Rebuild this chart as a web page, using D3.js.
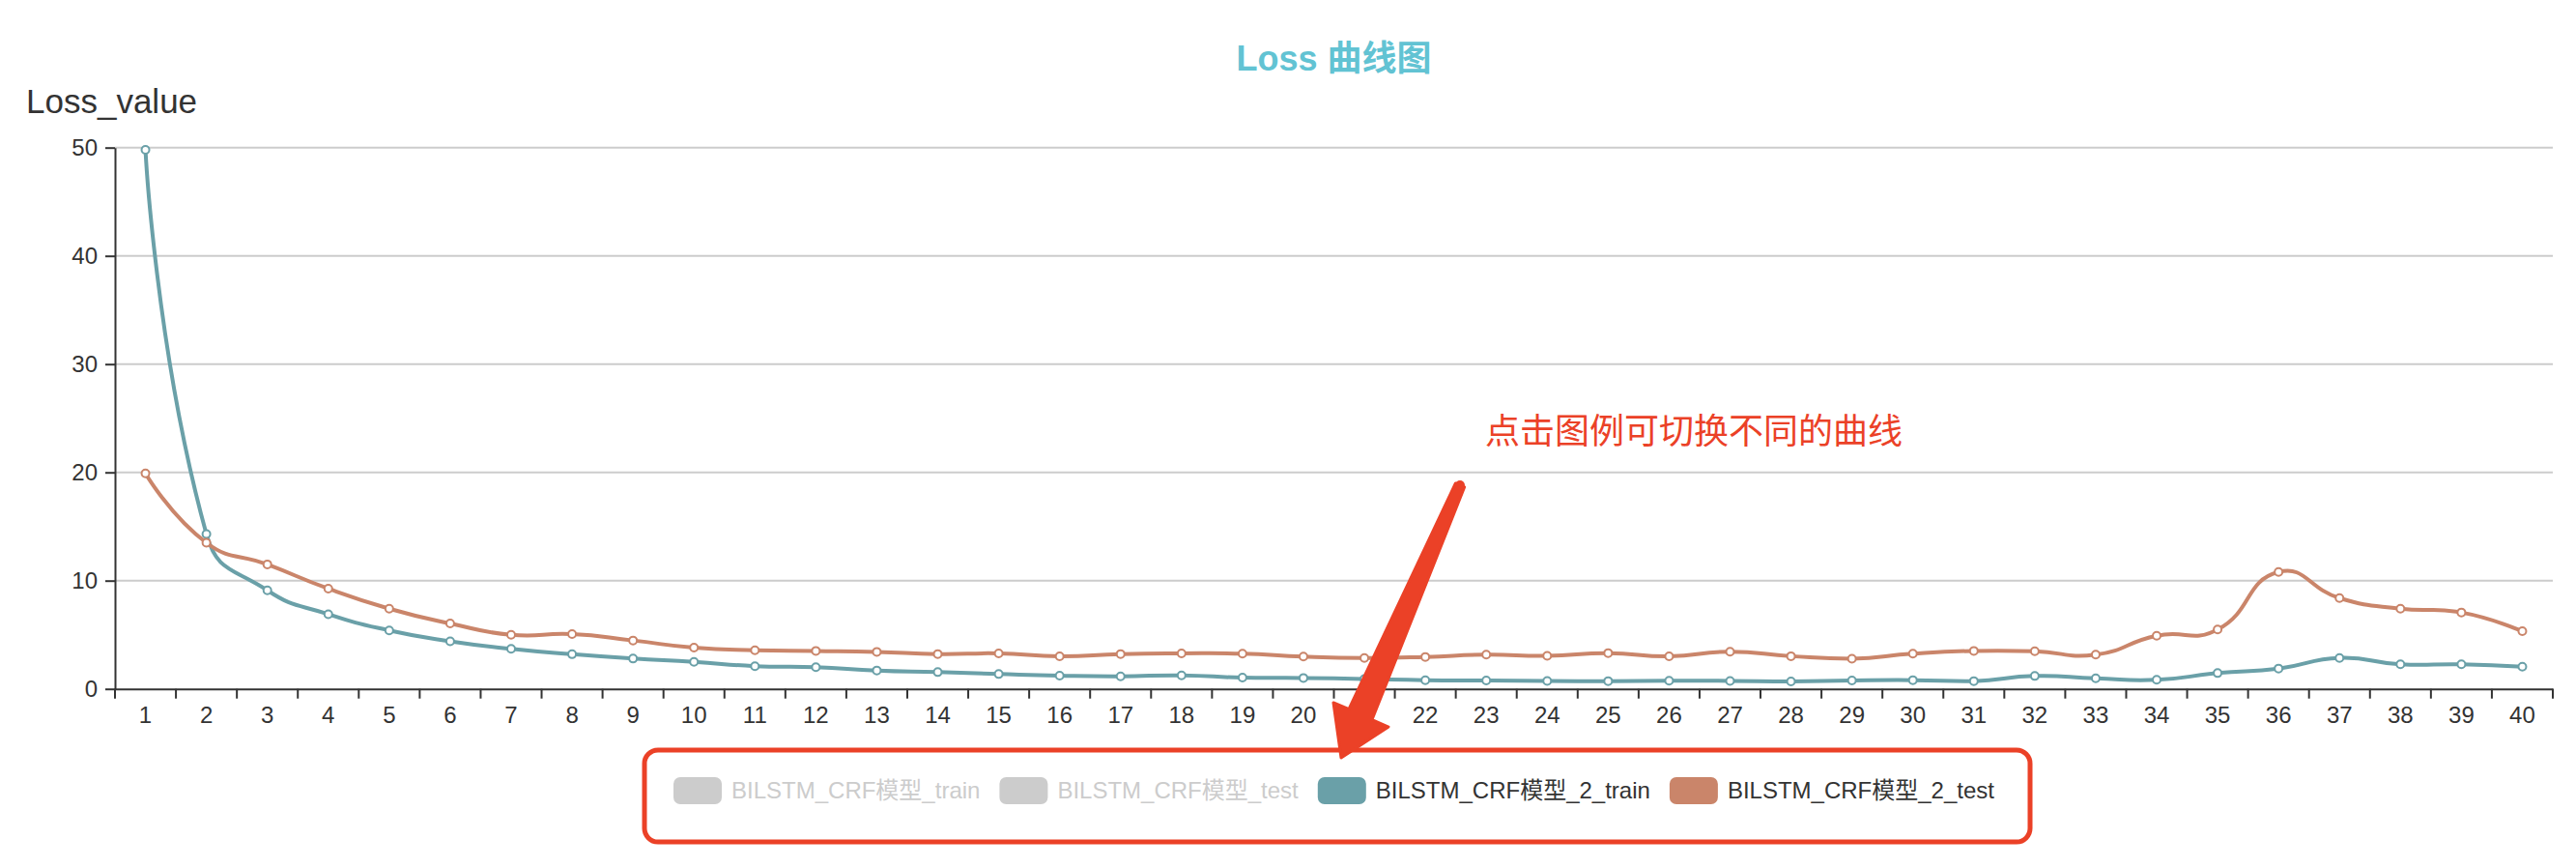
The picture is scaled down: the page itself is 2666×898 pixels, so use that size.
<!DOCTYPE html>
<meta charset="utf-8">
<style>
body { margin: 0; background: #fff; }
svg text { font-family: "Liberation Sans", "Noto Sans CJK SC", sans-serif; }
.axis text { font-size: 24px; fill: #333; }
.axis path, .axis line { stroke: #333; stroke-width: 2; }
.grid line { stroke: #ccc; stroke-width: 2; }
</style>
<svg width="2666" height="898"></svg>
<script src="https://d3js.org/d3.v7.min.js"></script>
<script>

var epochs = d3.range(1, 41).map(String);
var trainLoss = [49.8, 14.3, 9.1, 6.9, 5.4, 4.4, 3.7, 3.2, 2.8, 2.5,
                 2.1, 2.0, 1.7, 1.55, 1.37, 1.22, 1.16, 1.25, 1.04, 1.01,
                 0.91, 0.80, 0.77, 0.73, 0.72, 0.76, 0.74, 0.69, 0.78, 0.81,
                 0.72, 1.19, 0.98, 0.84, 1.46, 1.88, 2.86, 2.27, 2.27, 2.05];
var testLoss = [19.9, 13.5, 11.5, 9.26, 7.41, 6.04, 5.0, 5.06, 4.47, 3.81,
                3.57, 3.51, 3.42, 3.22, 3.28, 3.01, 3.22, 3.28, 3.25, 2.98,
                2.86, 2.95, 3.16, 3.05, 3.31, 3.01, 3.44, 3.02, 2.79, 3.25,
                3.51, 3.48, 3.16, 4.91, 5.48, 10.8, 8.39, 7.41, 7.06, 5.33];
var yTicks = [0, 10, 20, 30, 40, 50];
var legendNames = ["BILSTM_CRF模型_train", "BILSTM_CRF模型_test", "BILSTM_CRF模型_2_train", "BILSTM_CRF模型_2_test"];
var legendOn = [false, false, true, true];

var svg = d3.select("svg");
var gLeft = 119, gRight = 2642, gTop = 152.7, gBottom = 712.7;
var palette = ["#c23531", "#2f4554", "#6aa0a8", "#ca856a"];

var x = d3.scaleBand().domain(epochs).range([gLeft, gRight]).padding(0);
var y = d3.scaleLinear().domain([0, 50]).range([gBottom, gTop]);

// grid
svg.append("g").attr("class", "grid")
  .selectAll("line").data(yTicks.filter(function(d) { return d > 0; }))
  .enter().append("line")
    .attr("x1", gLeft).attr("x2", gRight)
    .attr("y1", function(d) { return y(d); }).attr("y2", function(d) { return y(d); });

// axes
svg.append("g").attr("class", "axis")
  .attr("transform", "translate(" + gLeft + ",0)")
  .call(d3.axisLeft(y).tickValues(yTicks).tickSize(10).tickSizeOuter(0).tickPadding(8));

var xg = svg.append("g").attr("class", "axis")
  .attr("transform", "translate(0," + gBottom + ")")
  .call(d3.axisBottom(x).tickSize(0).tickSizeOuter(0).tickPadding(18));
xg.selectAll(".tick line").remove();
xg.selectAll(".boundary").data(d3.range(epochs.length + 1))
  .enter().append("line")
    .attr("class", "boundary")
    .attr("x1", function(i) { return gLeft + i * x.step(); })
    .attr("x2", function(i) { return gLeft + i * x.step(); })
    .attr("y1", 0).attr("y2", 10);

// echarts-like smooth line
function smoothPath(pts, smooth) {
  var minX = d3.min(pts, function(p) { return p[0]; }), maxX = d3.max(pts, function(p) { return p[0]; });
  var minY = d3.min(pts, function(p) { return p[1]; }), maxY = d3.max(pts, function(p) { return p[1]; });
  function clamp(c) { return [Math.max(minX, Math.min(maxX, c[0])), Math.max(minY, Math.min(maxY, c[1]))]; }
  var path = d3.path();
  path.moveTo(pts[0][0], pts[0][1]);
  var cp0 = pts[0].slice();
  for (var i = 1; i < pts.length; i++) {
    var p = pts[i], prev = pts[i - 1], next = pts[i + 1];
    var v = [0, 0], ratio = 0.5, cp1;
    if (!next) {
      cp1 = p.slice();
    } else {
      v = [next[0] - prev[0], next[1] - prev[1]];
      var lp = Math.hypot(p[0] - prev[0], p[1] - prev[1]);
      var ln = Math.hypot(p[0] - next[0], p[1] - next[1]);
      ratio = ln / (ln + lp);
      cp1 = [p[0] - v[0] * smooth * (1 - ratio), p[1] - v[1] * smooth * (1 - ratio)];
    }
    cp0 = clamp(cp0); cp1 = clamp(cp1);
    path.bezierCurveTo(cp0[0], cp0[1], cp1[0], cp1[1], p[0], p[1]);
    cp0 = [p[0] + v[0] * smooth * ratio, p[1] + v[1] * smooth * ratio];
  }
  return path.toString();
}

var series = [
  { values: trainLoss, color: palette[2] },
  { values: testLoss, color: palette[3] }
];

series.forEach(function(s) {
  var pts = s.values.map(function(v, i) { return [x(epochs[i]) + x.bandwidth() / 2, y(v)]; });
  svg.append("path")
    .attr("d", smoothPath(pts, 0.5))
    .attr("fill", "none")
    .attr("stroke", s.color)
    .attr("stroke-width", 4)
    .attr("stroke-linejoin", "round");
  svg.append("g").selectAll("circle").data(pts)
    .enter().append("circle")
      .attr("cx", function(d) { return d[0]; })
      .attr("cy", function(d) { return d[1]; })
      .attr("r", 4)
      .attr("fill", "#fff")
      .attr("stroke", s.color)
      .attr("stroke-width", 2);
});

// title + axis name
svg.append("text").attr("x", (gLeft + gRight) / 2).attr("y", 72.5)
  .attr("text-anchor", "middle")
  .style("font-size", "36px").style("font-weight", "bold").style("fill", "#62c3d3")
  .text("Loss 曲线图");
svg.append("text").attr("x", 27).attr("y", 117)
  .style("font-size", "35px").style("fill", "#333")
  .text("Loss_value");

// legend
var lg = svg.append("g");
var cx = 0;
legendNames.forEach(function(name, i) {
  var item = lg.append("g").attr("transform", "translate(" + cx + ",0)");
  item.append("rect").attr("x", 0).attr("y", 804).attr("width", 50).attr("height", 28).attr("rx", 7)
    .attr("fill", legendOn[i] ? palette[i] : "#ccc");
  var t = item.append("text").attr("x", 60).attr("y", 826)
    .style("font-size", "24px").style("fill", legendOn[i] ? "#333" : "#ccc")
    .text(name);
  cx += 60 + t.node().getComputedTextLength() + 20;
});
var lgWidth = cx - 20;
lg.attr("transform", "translate(" + ((gLeft + gRight) / 2 - lgWidth / 2) + ",0)");

// annotation
var red = "#eb4127";
svg.append("rect").attr("x", 667).attr("y", 776).attr("width", 1434).attr("height", 95).attr("rx", 14)
  .attr("fill", "none").attr("stroke", red).attr("stroke-width", 5);
svg.append("path")
  .attr("d", "M1506.4,500 L1515.6,504 L1420,744.5 L1437,752 L1388,784 L1380,727 L1396,733.6 Z")
  .attr("fill", red).attr("stroke", red).attr("stroke-width", 3).attr("stroke-linejoin", "round");
svg.append("circle").attr("cx", 1511).attr("cy", 502).attr("r", 5).attr("fill", red);
svg.append("text").attr("x", 1537).attr("y", 459)
  .style("font-size", "36px").style("fill", red)
  .text("点击图例可切换不同的曲线");

</script>
